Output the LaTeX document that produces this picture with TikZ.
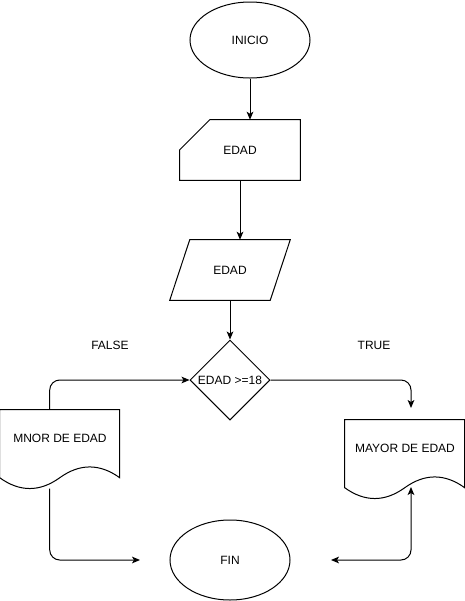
\documentclass[tikz,border=0pt]{standalone}
\usepackage{fontspec}
\setmainfont{Liberation Sans}
\usetikzlibrary{shapes.geometric,arrows.meta,calc}
\begin{document}
\begin{tikzpicture}[x=0.75pt,y=-0.75pt,
  every node/.style={font=\fontsize{9pt}{11pt}\selectfont},
  line/.style={draw=black,line width=0.75pt},
  arr/.style={line,-{Stealth[length=6pt,width=5pt,inset=1.5pt]}},
  biarr/.style={line,{Stealth[length=6pt,width=5pt,inset=1.5pt]}-{Stealth[length=6pt,width=5pt,inset=1.5pt]}},
  term/.style={ellipse,line,minimum width=90pt,minimum height=57pt,inner sep=0pt},
  box/.style={rectangle,inner sep=0pt},
  decision/.style={diamond,line,minimum width=60pt,minimum height=60pt,inner sep=0pt},
  lbl/.style={inner sep=0pt}]
\useasboundingbox (0,0) rectangle (465,601);

% start
\node[term] (inicio) at (250,40) {INICIO};

% manual input card
\node[box,minimum width=90pt,minimum height=45pt] (card) at (240,150) {EDAD};
\draw[line] (card.south west) -- ($(card.north west)+(0,30)$) -- ($(card.north west)+(30,0)$) -- (card.north east) -- (card.south east) -- cycle;

% parallelogram
\node[box,minimum width=90pt,minimum height=45pt] (para) at (230,270) {EDAD};
\draw[line] (para.south west) -- ($(para.north west)+(20,0)$) -- (para.north east) -- ($(para.south east)+(-20,0)$) -- cycle;

% decision
\node[decision] (dia) at (230,380) {EDAD >=18};

% left document
\node[box,minimum width=90pt,minimum height=60pt] (mnor) at (60,450) {};
\draw[line,shift={(mnor.north west)}] (0,0) -- (120,0) -- (120,68) .. controls (100,53.6) and (80,53.6) .. (60,68) .. controls (40,82.4) and (20,82.4) .. (0,68) -- cycle;
\node[lbl] (mnortext) at ($(mnor.center)+(0,-12)$) {MNOR DE EDAD};

% right document
\node[box,minimum width=90pt,minimum height=60pt] (mayor) at (405,460) {};
\draw[line,shift={(mayor.north west)}] (0,0) -- (120,0) -- (120,68) .. controls (100,53.6) and (80,53.6) .. (60,68) .. controls (40,82.4) and (20,82.4) .. (0,68) -- cycle;
\node[lbl] (mayortext) at ($(mayor.center)+(0,-12)$) {MAYOR DE EDAD};

% end
\node[term,minimum height=60pt] (fin) at (230,560) {FIN};

% labels
\node[lbl] (false) at (110,345) {FALSE};
\node[lbl] (true) at (374,345) {TRUE};

% coordinates
\coordinate (mnortop) at ($(mnor.north west)+(50,0)$);
\coordinate (mnorbot) at ($(mnor.north west)+(50,79)$);
\coordinate (mayortop) at (411,408);
\coordinate (mayorbot) at (411,487);
\coordinate (finl) at (140,560);
\coordinate (finr) at (331,560);

% connectors
\draw[arr] (inicio.south) -- (inicio.south |- card.north);
\draw[arr] (card.south -| 240,0) -- (para.north -| 240,0);
\draw[arr] (para.south) -- (dia.north);
\draw[arr,rounded corners=7.5pt] (dia.east) -| (mayortop);
\draw[arr,rounded corners=7.5pt] (mnortop) |- (dia.west);
\draw[arr,rounded corners=7.5pt] (mnorbot) |- (finl);
\draw[biarr,rounded corners=7.5pt] (finr) -| (mayorbot);
\end{tikzpicture}
\end{document}
